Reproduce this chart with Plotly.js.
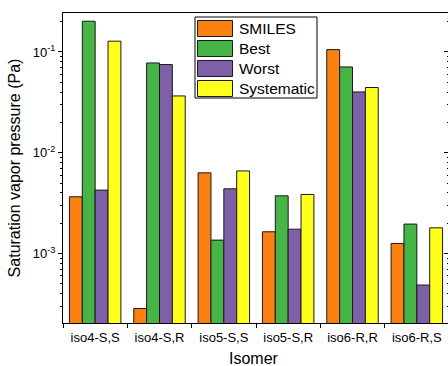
<!DOCTYPE html>
<html>
<head>
<meta charset="utf-8">
<script src="https://cdn.plot.ly/plotly-3.0.1.min.js"></script>
<style>
  html, body { margin: 0; padding: 0; overflow: hidden; background: #fff; }
  #chart { width: 450px; height: 366px; }
</style>
</head>
<body>
<div id="chart"></div>
<script>
const categories = ["iso4-S,S", "iso4-S,R", "iso5-S,S", "iso5-S,R", "iso6-R,R", "iso6-R,S"];
const seriesNames = ["SMILES", "Best", "Worst", "Systematic"];
const smiles     = [0.00365, 0.000284, 0.00631, 0.00164, 0.1056, 0.001256];
const best       = [0.202,   0.0778,   0.001355, 0.00373, 0.071, 0.001955];
const worst      = [0.00425, 0.075,    0.00438, 0.00174, 0.0401, 0.000485];
const systematic = [0.128,   0.0366,   0.00659, 0.00385, 0.0444, 0.001795];
const colors = ["#FA8011", "#47B447", "#7E60A8", "#FFFF1E"];
const yTickVals = [0.001, 0.01, 0.1];
const yTickText = ["10<sup>-3</sup>", "10<sup>-2</sup>", "10<sup>-1</sup>"];
const xTitle = "Isomer";
const yTitle = "Saturation vapor pressure (Pa)";

const values = [smiles, best, worst, systematic];
const FONT = "'Liberation Sans', Arial, sans-serif";

const W = 450, H = 366;
const M = {l: 63, r: 1, t: 13, b: 43};
const plotW = W - M.l - M.r, plotH = H - M.t - M.b;
const px = x => (x - M.l) / plotW;
const py = y => (H - M.b - y) / plotH;

const traces = seriesNames.map((name, i) => ({
  type: "bar",
  name: name,
  x: categories,
  y: values[i],
  marker: {color: colors[i], line: {color: "#1a1a1a", width: 1}},
  showlegend: false
}));
// invisible trace to activate right axis
traces.push({type: "scatter", x: [categories[0]], y: [0.01], yaxis: "y2", mode: "markers",
  marker: {opacity: 0}, showlegend: false, hoverinfo: "skip"});

const yRange = [-3.691, -0.613];

// custom legend
const shapes = [];
const annotations = [];
shapes.push({type: "rect", xref: "paper", yref: "paper",
  x0: px(195), x1: px(317), y0: py(98), y1: py(17),
  line: {color: "#000", width: 1}, fillcolor: "#fff", layer: "above"});
seriesNames.forEach((name, i) => {
  shapes.push({type: "rect", xref: "paper", yref: "paper",
    x0: px(197.5), x1: px(232.5), y0: py(36.5 + 20 * i), y1: py(20.5 + 20 * i),
    line: {color: "#1a1a1a", width: 1}, fillcolor: colors[i], layer: "above"});
  annotations.push({xref: "paper", yref: "paper", x: px(237), y: py(28.5 + 20 * i),
    xanchor: "left", yanchor: "middle", text: name, showarrow: false,
    font: {family: FONT, size: 15.5, color: "#000"}});
});
// x axis title
annotations.push({xref: "paper", yref: "paper", x: px(254), y: py(358.5),
  xanchor: "center", yanchor: "middle", text: xTitle, showarrow: false,
  borderpad: 0, borderwidth: 0,
  font: {family: FONT, size: 16, color: "#000"}});

const layout = {
  width: W, height: H,
  margin: M,
  paper_bgcolor: "#fff", plot_bgcolor: "#fff",
  barmode: "group", bargap: 0.2, bargroupgap: 0,
  showlegend: false,
  font: {family: FONT, color: "#000"},
  xaxis: {
    type: "category",
    showline: true, linecolor: "#000", linewidth: 1, mirror: true,
    ticks: "outside", tickson: "boundaries", ticklen: 4, tickcolor: "#000",
    tickfont: {family: FONT, size: 13, color: "#000"},
    ticklabelstandoff: 2,
    showgrid: false, zeroline: false
  },
  yaxis: {
    type: "log", range: yRange,
    showline: true, linecolor: "#000", linewidth: 1,
    ticks: "outside", ticklen: 4, tickcolor: "#000",
    tickvals: yTickVals, ticktext: yTickText,
    tickfont: {family: FONT, size: 13, color: "#000"},
    minor: {ticks: "outside", ticklen: 2, tickcolor: "#000", dtick: "D1", showgrid: false},
    showgrid: false, zeroline: false,
    title: {text: yTitle, font: {family: FONT, size: 16, color: "#000"}, standoff: 8}
  },
  yaxis2: {
    type: "log", range: yRange, overlaying: "y", side: "right",
    showline: true, linecolor: "#000", linewidth: 1,
    ticks: "inside", ticklen: 5, tickcolor: "#000",
    tickvals: yTickVals, showticklabels: false,
    minor: {ticks: "inside", ticklen: 2, tickcolor: "#000", dtick: "D1", showgrid: false},
    showgrid: false, zeroline: false
  },
  shapes: shapes,
  annotations: annotations
};

Plotly.newPlot("chart", traces, layout, {displayModeBar: false, staticPlot: true});
</script>
</body>
</html>
